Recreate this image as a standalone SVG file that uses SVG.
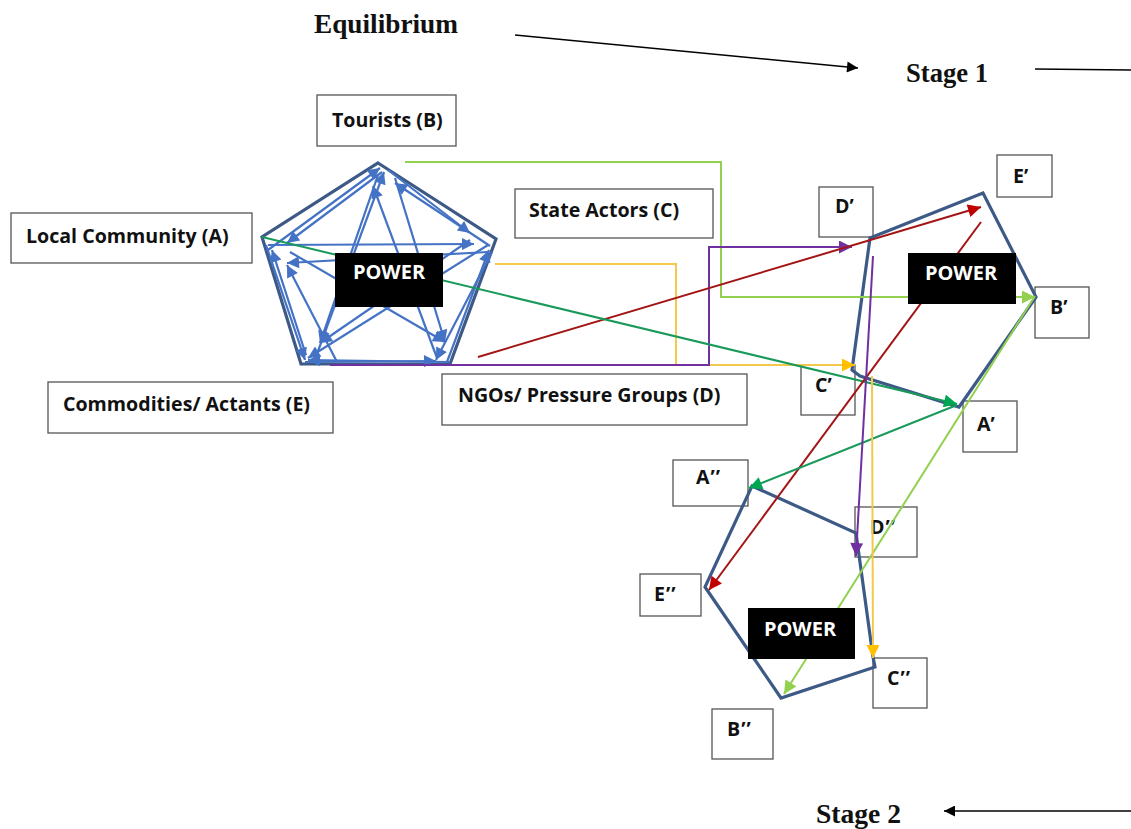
<svg xmlns="http://www.w3.org/2000/svg" width="1131" height="829" viewBox="0 0 1131 829">
  <style>
    .title { font-family: "Liberation Serif", "Times New Roman", serif; font-weight: bold; font-size: 27px; fill: #111; }
    .lbl { font-family: "Open Sans", "Noto Sans", sans-serif; font-weight: bold; font-size: 19.6px; fill: #111; }
    .pr { letter-spacing: 1px; }
    .pw { font-family: "Open Sans", "Noto Sans", sans-serif; font-weight: bold; font-size: 20px; fill: #fff; }
    .box { fill: #fff; stroke: #555; stroke-width: 1.3; }
    .pbox { fill: #000; }
    .pent { fill: none; stroke: #3D5A86; stroke-width: 3.2; stroke-linejoin: miter; }
    .web line { stroke: #4472C4; stroke-width: 2.2; marker-end: url(#ab); }
    .c { fill: none; stroke-width: 2; }
  </style>
  <defs>
    <marker id="ab" viewBox="0 0 10 10" refX="10" refY="5" markerUnits="userSpaceOnUse" markerWidth="15" markerHeight="12" orient="auto"><path d="M0,0 L10,5 L0,10 z" fill="#4472C4"/></marker>
    <marker id="ak" viewBox="0 0 10 10" refX="10" refY="5" markerUnits="userSpaceOnUse" markerWidth="14" markerHeight="11" orient="auto"><path d="M0,0 L10,5 L0,10 z" fill="#000"/></marker>
    <marker id="ag" viewBox="0 0 10 10" refX="10" refY="5" markerUnits="userSpaceOnUse" markerWidth="15" markerHeight="13" orient="auto"><path d="M0,0 L10,5 L0,10 z" fill="#00A651"/></marker>
    <marker id="alg" viewBox="0 0 10 10" refX="10" refY="5" markerUnits="userSpaceOnUse" markerWidth="15" markerHeight="13" orient="auto"><path d="M0,0 L10,5 L0,10 z" fill="#92D050"/></marker>
    <marker id="ay" viewBox="0 0 10 10" refX="10" refY="5" markerUnits="userSpaceOnUse" markerWidth="15" markerHeight="13" orient="auto"><path d="M0,0 L10,5 L0,10 z" fill="#FFC000"/></marker>
    <marker id="ap" viewBox="0 0 10 10" refX="10" refY="5" markerUnits="userSpaceOnUse" markerWidth="15" markerHeight="13" orient="auto"><path d="M0,0 L10,5 L0,10 z" fill="#7030A0"/></marker>
    <marker id="ar" viewBox="0 0 10 10" refX="10" refY="5" markerUnits="userSpaceOnUse" markerWidth="16" markerHeight="13" orient="auto"><path d="M0,0 L10,5 L0,10 z" fill="#C00000"/></marker>
  </defs>

  <rect width="1131" height="829" fill="#fff"/>

  <!-- stage headings and flow arrows -->
  <g id="headings">
    <text class="title" x="314" y="33" textLength="144" lengthAdjust="spacingAndGlyphs">Equilibrium</text>
    <text class="title" x="906" y="82" textLength="82" lengthAdjust="spacingAndGlyphs">Stage 1</text>
    <text class="title" x="816" y="823" textLength="85" lengthAdjust="spacingAndGlyphs">Stage 2</text>
    <line x1="515" y1="35" x2="858" y2="68" stroke="#000" stroke-width="1.6" marker-end="url(#ak)"/>
    <line x1="1035" y1="69" x2="1131" y2="70" stroke="#000" stroke-width="1.6"/>
    <line x1="1131" y1="811" x2="944" y2="811" stroke="#000" stroke-width="1.6" marker-end="url(#ak)"/>
  </g>

  <!-- actor labels -->
  <g id="actor-A"><rect class="box" x="11" y="213" width="241" height="50"/><text class="lbl" x="26" y="243">Local Community (A)</text></g>
  <g id="actor-B"><rect class="box" x="317" y="95" width="139" height="51"/><text class="lbl" x="332" y="127">Tourists (B)</text></g>
  <g id="actor-C"><rect class="box" x="515" y="189" width="198" height="49"/><text class="lbl" x="529" y="217">State Actors (C)</text></g>
  <g id="actor-D"><rect class="box" x="442" y="374" width="305" height="51"/><text class="lbl" x="458" y="402">NGOs/ Pressure Groups (D)</text></g>
  <g id="actor-E"><rect class="box" x="48" y="382" width="285" height="51"/><text class="lbl" x="63" y="411">Commodities/ Actants (E)</text></g>

  <!-- stage 1 labels -->
  <g id="s1-D"><rect class="box" x="819" y="187" width="54" height="50"/><text class="lbl" x="835" y="213">D’</text></g>
  <g id="s1-E"><rect class="box" x="997" y="155" width="55" height="42"/><text class="lbl" x="1013" y="183">E’</text></g>
  <g id="s1-B"><rect class="box" x="1035" y="287" width="54" height="51"/><text class="lbl" x="1050" y="314">B’</text></g>
  <g id="s1-C"><rect class="box" x="801" y="365" width="54" height="50"/><text class="lbl" x="815" y="392">C’</text></g>
  <g id="s1-A"><rect class="box" x="963" y="401" width="54" height="51"/><text class="lbl" x="977" y="431">A’</text></g>

  <!-- stage 2 labels -->
  <g id="s2-A"><rect class="box" x="673" y="460" width="75" height="46"/><text class="lbl pr" x="696" y="484">A’’</text></g>
  <g id="s2-D"><rect class="box" x="855" y="507" width="62" height="50" style="fill:none"/><text class="lbl pr" x="870" y="534">D’’</text></g>
  <g id="s2-E"><rect class="box" x="640" y="574" width="61" height="42"/><text class="lbl pr" x="654" y="601">E’’</text></g>
  <g id="s2-C"><rect class="box" x="873" y="658" width="54" height="50"/><text class="lbl pr" x="887" y="685">C’’</text></g>
  <g id="s2-B"><rect class="box" x="712" y="709" width="61" height="50"/><text class="lbl pr" x="727" y="736">B’’</text></g>

  <!-- equilibrium network -->
  <g id="equilibrium-web">
    <polygon class="pent" points="378,163 496,239 450,364 301,364 262,237"/>
    <g class="web">
      <line x1="268" y1="250" x2="380" y2="168"/>
      <line x1="382" y1="172" x2="287" y2="243"/>
      <line x1="388" y1="170" x2="470" y2="233"/>
      <line x1="490" y1="246" x2="395" y2="183"/>
      <line x1="395" y1="178" x2="445" y2="342"/>
      <line x1="437" y1="358" x2="373" y2="186"/>
      <line x1="378" y1="175" x2="320" y2="343"/>
      <line x1="314" y1="362" x2="384" y2="172"/>
      <line x1="268" y1="245" x2="474" y2="244"/>
      <line x1="488" y1="252" x2="287" y2="263"/>
      <line x1="492" y1="252" x2="436" y2="360"/>
      <line x1="447" y1="362" x2="489" y2="250"/>
      <line x1="290" y1="252" x2="445" y2="342"/>
      <line x1="470" y1="240" x2="320" y2="343"/>
      <line x1="488" y1="245" x2="308" y2="358"/>
      <line x1="450" y1="362" x2="308" y2="360"/>
      <line x1="305" y1="362" x2="436" y2="361"/>
      <line x1="266" y1="245" x2="305" y2="360"/>
      <line x1="306" y1="355" x2="272" y2="250"/>
      <line x1="337" y1="362" x2="287" y2="265"/>
    </g>
  </g>

  <!-- stage pentagons -->
  <g id="stage1-web"><polygon class="pent" points="870,238 983,193 1036,297 959,407 860,376 852,370"/></g>
  <g id="stage2-web"><polygon class="pent" points="752,486 856,533 873,657 875,667 781,698 705,587"/></g>

  <!-- connectors -->
  <g id="connectors">
    <polyline class="c" stroke="#92D050" points="405,162 721,162 721,297 1035,297" marker-end="url(#alg)"/>
    <polyline class="c" stroke="#F2C94C" points="495,264 676,264 676,365 855,365" marker-end="url(#ay)"/>
    <polyline class="c" stroke="#7030A0" points="330,365 709,365 709,247 852,247" marker-end="url(#ap)"/>
    <line class="c" stroke="#A31515" x1="478" y1="357" x2="981" y2="207" marker-end="url(#ar)"/>
    <line class="c" stroke="#1A9A5A" x1="262" y1="237" x2="957" y2="404" marker-end="url(#ag)"/>

    <line class="c" stroke="#A31515" x1="981" y1="222" x2="709" y2="590" marker-end="url(#ar)"/>
    <line class="c" stroke="#1A9A5A" x1="957" y1="405" x2="749" y2="488" marker-end="url(#ag)"/>
    <line class="c" stroke="#92D050" x1="1035" y1="296" x2="784" y2="694" marker-end="url(#alg)"/>
    <line class="c" stroke="#7030A0" x1="873" y1="256" x2="856" y2="556" marker-end="url(#ap)"/>
    <line class="c" stroke="#F2C94C" x1="872" y1="376" x2="873" y2="658" marker-end="url(#ay)"/>
  </g>

  <!-- power blocks -->
  <g id="power-0"><rect class="pbox" x="335" y="253" width="108" height="54"/><text class="pw" x="389" y="279" text-anchor="middle">POWER</text></g>
  <g id="power-1"><rect class="pbox" x="908" y="253" width="108" height="51"/><text class="pw" x="961" y="280" text-anchor="middle">POWER</text></g>
  <g id="power-2"><rect class="pbox" x="748" y="608" width="107" height="51"/><text class="pw" x="800" y="636" text-anchor="middle">POWER</text></g>
</svg>
